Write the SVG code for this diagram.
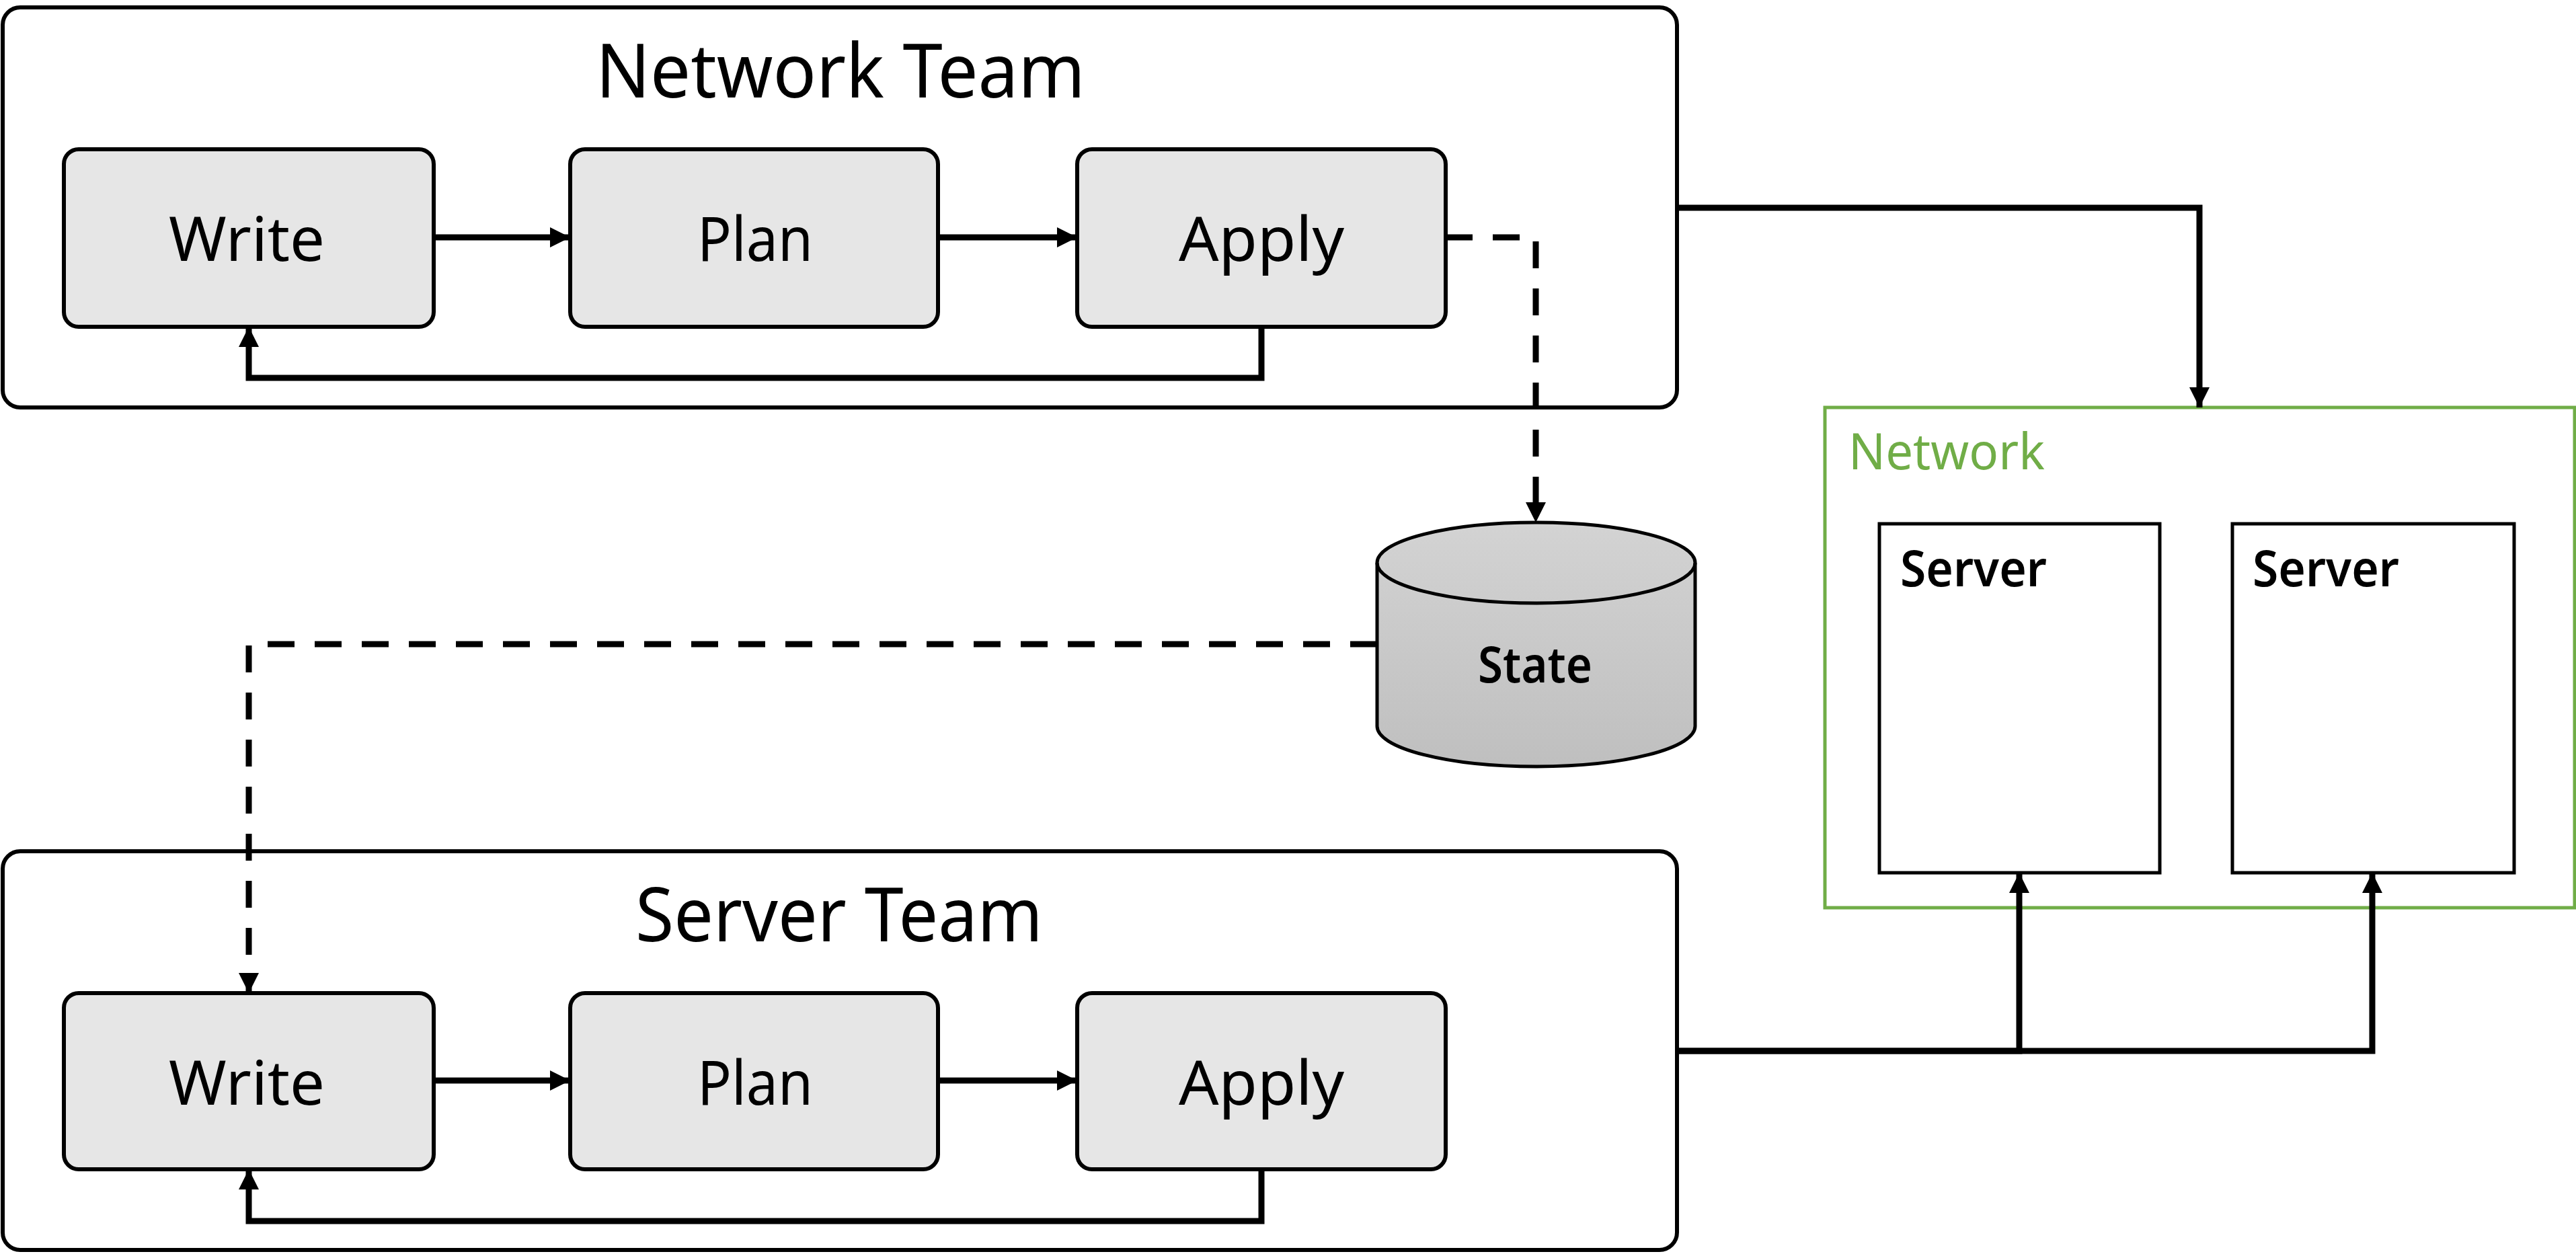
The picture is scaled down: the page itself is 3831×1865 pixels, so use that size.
<svg xmlns="http://www.w3.org/2000/svg" width="3831" height="1865" viewBox="0 0 3831 1865">
<style>
.team{fill:#FFFFFF;stroke:#000000;stroke-width:6}
.step{fill:#E6E6E6;stroke:#000000;stroke-width:6}
.srv{fill:#FFFFFF;stroke:#000000;stroke-width:5}
.grp{fill:none;stroke:#70AD47;stroke-width:5}
.t{font-family:"Noto Sans","Open Sans",sans-serif;fill:#000000}
.title{font-size:112px;text-anchor:middle}
.lbl{font-size:92px;text-anchor:middle}
.sm{font-size:74px;font-weight:600}
.conn{fill:none;stroke:#000000;stroke-width:9;marker-end:url(#arr)}
.dash{stroke-dasharray:40 30}
</style>
<defs>
<marker id="arr" markerUnits="userSpaceOnUse" viewBox="0 0 30 30" refX="30" refY="15" markerWidth="30" markerHeight="30" orient="auto">
<path d="M0,0 L30,15 L0,30 Z" fill="#000000"/>
</marker>
<linearGradient id="cylg" x1="0" y1="0" x2="0" y2="1">
<stop offset="0" stop-color="#D3D3D3"/>
<stop offset="1" stop-color="#BFBFBF"/>
</linearGradient>
</defs>
<rect width="3831" height="1865" fill="#FFFFFF"/>

<g id="network-team">
<rect class="team" x="4" y="11" width="2490" height="595" rx="26" ry="26"/>
<text class="t title" x="1250" y="145" textLength="728" lengthAdjust="spacingAndGlyphs">Network Team</text>
</g>
<g id="nt-write">
<rect class="step" x="95" y="222" width="550" height="264" rx="22" ry="22"/>
<text class="t lbl" x="367" y="388" textLength="232" lengthAdjust="spacingAndGlyphs">Write</text>
</g>
<g id="nt-plan">
<rect class="step" x="848" y="222" width="547" height="264" rx="22" ry="22"/>
<text class="t lbl" x="1123" y="388" textLength="172" lengthAdjust="spacingAndGlyphs">Plan</text>
</g>
<g id="nt-apply">
<rect class="step" x="1602" y="222" width="548" height="264" rx="22" ry="22"/>
<text class="t lbl" x="1876" y="388" textLength="246" lengthAdjust="spacingAndGlyphs">Apply</text>
</g>

<g id="server-team">
<rect class="team" x="4" y="1266" width="2490" height="593" rx="26" ry="26"/>
<text class="t title" x="1248" y="1400" textLength="606" lengthAdjust="spacingAndGlyphs">Server Team</text>
</g>
<g id="st-write">
<rect class="step" x="95" y="1477" width="550" height="262" rx="22" ry="22"/>
<text class="t lbl" x="367" y="1643" textLength="232" lengthAdjust="spacingAndGlyphs">Write</text>
</g>
<g id="st-plan">
<rect class="step" x="848" y="1477" width="547" height="262" rx="22" ry="22"/>
<text class="t lbl" x="1123" y="1643" textLength="172" lengthAdjust="spacingAndGlyphs">Plan</text>
</g>
<g id="st-apply">
<rect class="step" x="1602" y="1477" width="548" height="262" rx="22" ry="22"/>
<text class="t lbl" x="1876" y="1643" textLength="246" lengthAdjust="spacingAndGlyphs">Apply</text>
</g>

<g id="state">
<path d="M2048,837 A236.5,60 0 0,1 2521,837 V1080 A236.5,60 0 0,1 2048,1080 Z" fill="url(#cylg)" stroke="#000000" stroke-width="5"/>
<path d="M2048,837 A236.5,60 0 0,0 2521,837" fill="none" stroke="#000000" stroke-width="5"/>
<text class="t sm" x="2283" y="1015" text-anchor="middle" textLength="170" lengthAdjust="spacingAndGlyphs">State</text>
</g>

<g id="network">
<rect class="grp" x="2714" y="606" width="1115" height="744"/>
<text class="t" x="2749" y="698" font-size="74" fill="#70AD47" style="fill:#70AD47" textLength="292" lengthAdjust="spacingAndGlyphs">Network</text>
</g>
<g id="server-1">
<rect class="srv" x="2795" y="779" width="417" height="519"/>
<text class="t sm" x="2826" y="872" textLength="218" lengthAdjust="spacingAndGlyphs">Server</text>
</g>
<g id="server-2">
<rect class="srv" x="3320" y="779" width="419" height="519"/>
<text class="t sm" x="3350" y="872" textLength="218" lengthAdjust="spacingAndGlyphs">Server</text>
</g>

<g id="connectors">
<path class="conn" d="M645,353 H848"/>
<path class="conn" d="M1395,353 H1602"/>
<path class="conn" d="M1876,486 V562 H370 V486"/>
<path class="conn" d="M645,1607 H848"/>
<path class="conn" d="M1395,1607 H1602"/>
<path class="conn" d="M1876,1739 V1816 H370 V1739"/>
<path class="conn dash" d="M2150,353 H2284 V777"/>
<path class="conn dash" d="M2048,958 H370 V1477"/>
<path class="conn" d="M2494,309 H3271 V606"/>
<path class="conn" d="M2494,1563 H3003 V1298"/>
<path class="conn" d="M2494,1563 H3528 V1298"/>
</g>
</svg>
